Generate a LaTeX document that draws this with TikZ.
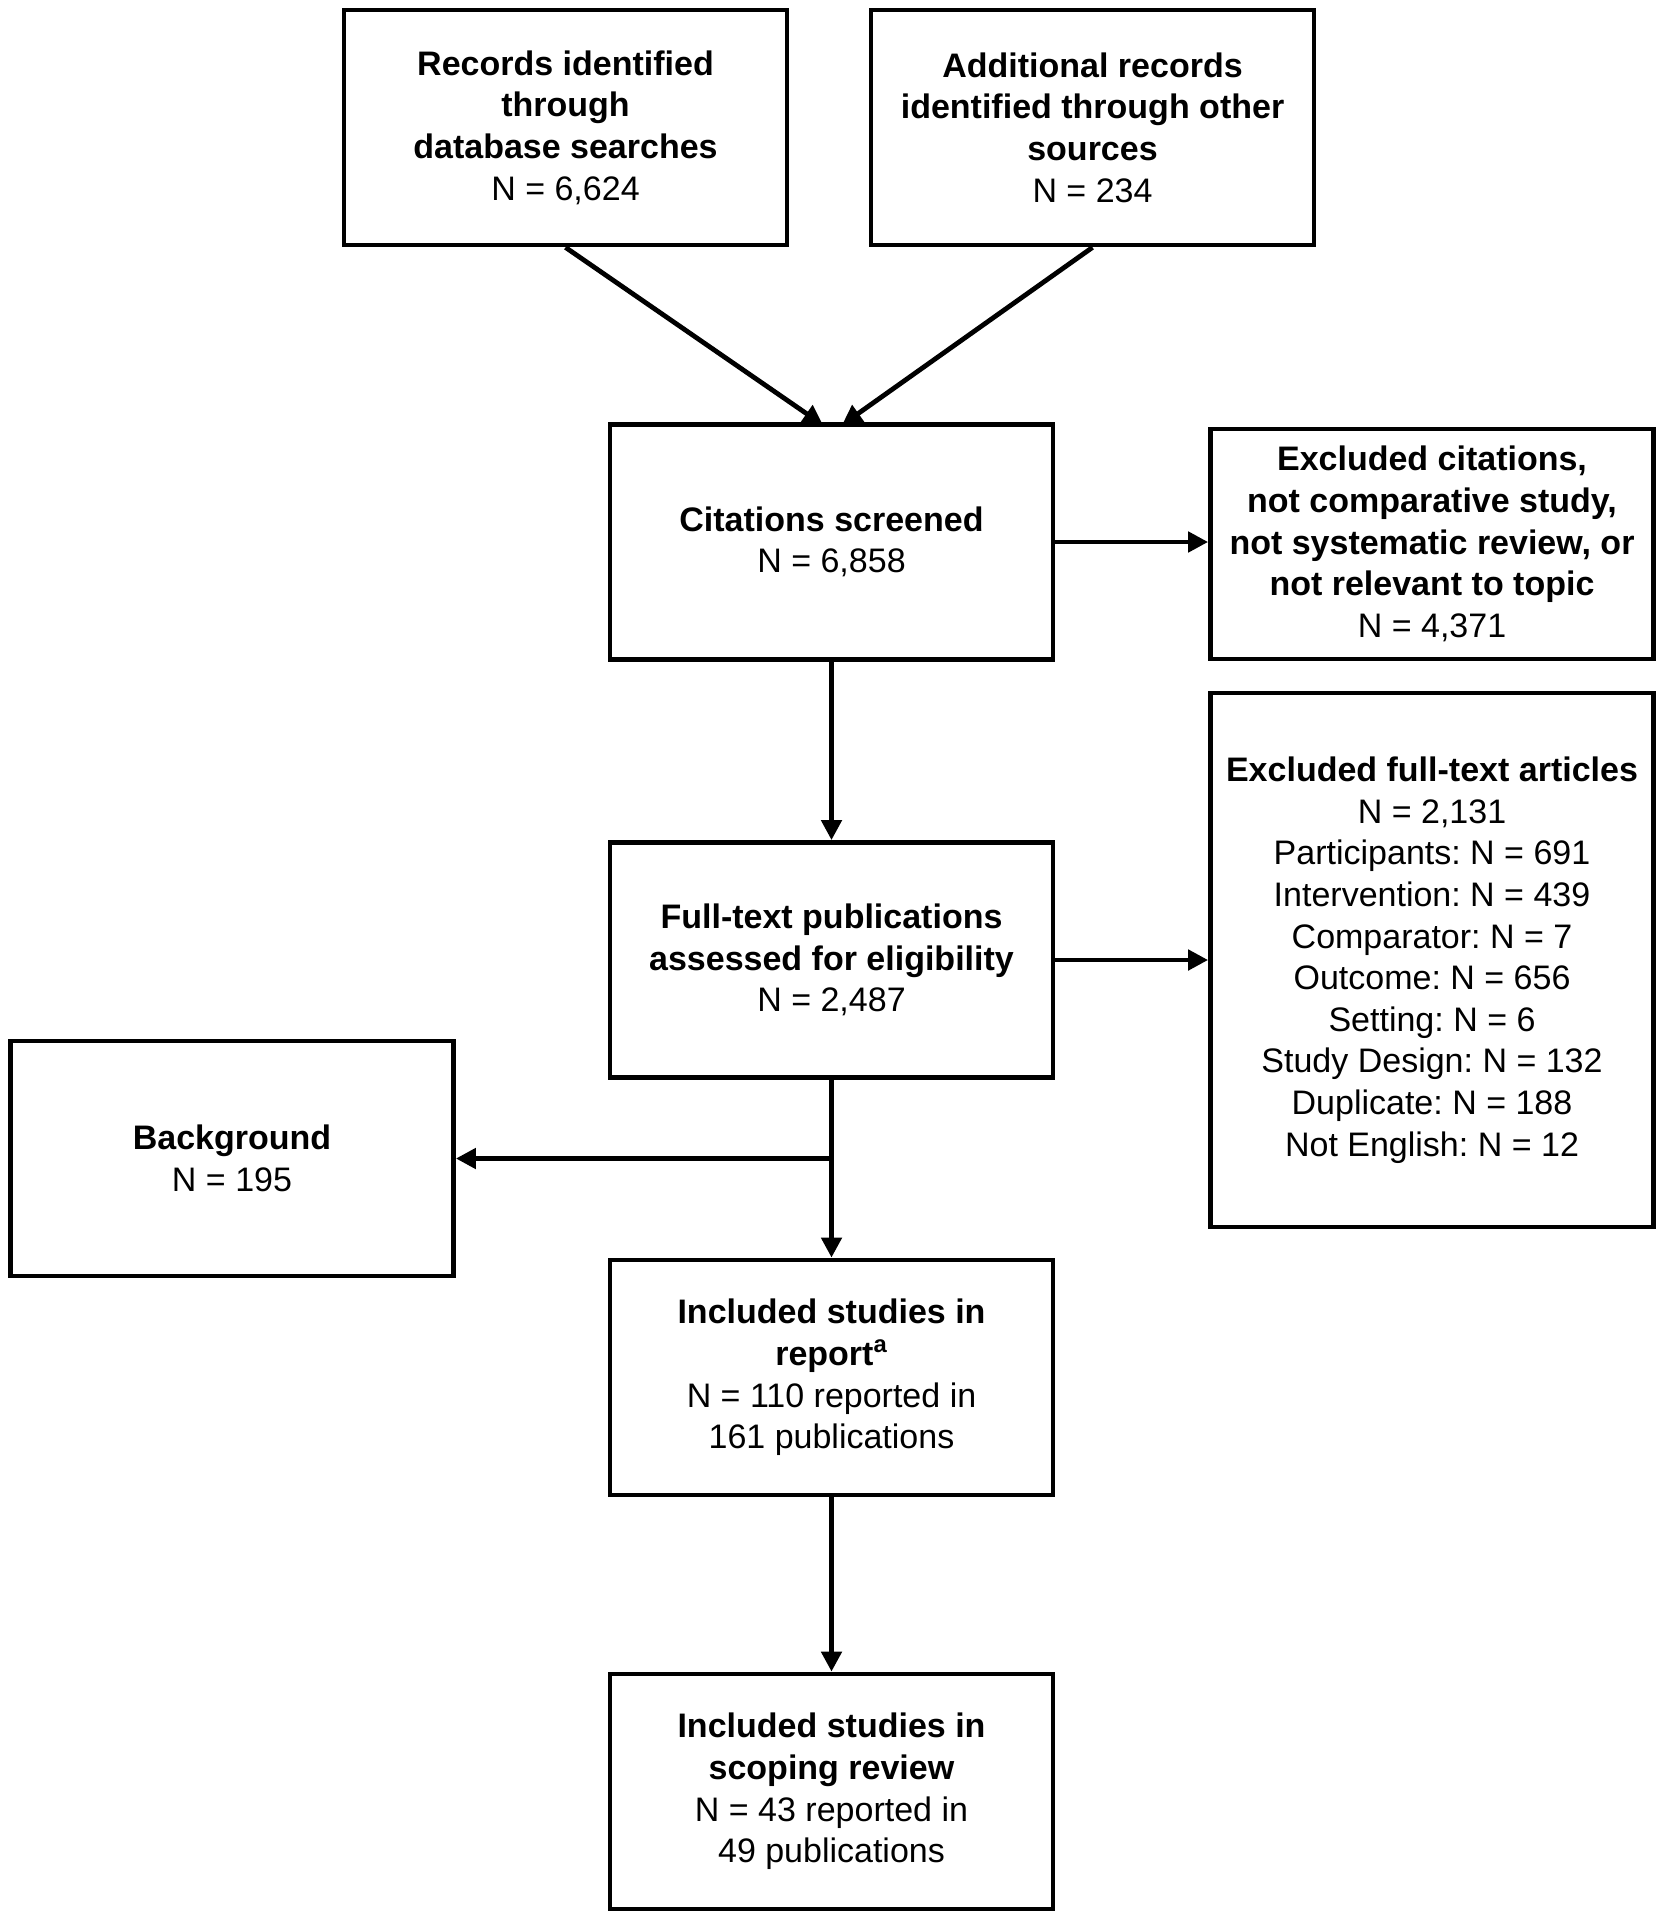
\documentclass[tikz,border=0pt]{standalone}
\usepackage{fontspec}
\setmainfont{Liberation Sans}
\frenchspacing
\usetikzlibrary{arrows.meta}
\begin{document}
\begin{tikzpicture}[x=0.5pt,y=-0.5pt,
  box/.style={draw, line width=2.4pt, minimum width=221.5pt, minimum height=117.5pt, align=center, inner sep=0pt, font=\fontsize{17}{20.8}\selectfont},
  conn/.style={line width=2.4pt, -{Triangle[length=10pt,width=10pt]}}]
\fill[white] (0,0) rectangle (1664,1920);
\useasboundingbox (0,0) rectangle (1664,1920);
\node[box] (rec) at (565.5,127.5) {\textbf{Records identified}\\\textbf{through}\\\textbf{database searches}\\N = 6,624};
\node[box] (add) at (1092.5,127.5) {\textbf{Additional records}\\\textbf{identified through other}\\\textbf{sources}\\N = 234};
\node[box] (cit) at (831.5,542) {\textbf{Citations screened}\\N = 6,858};
\node[box, minimum height=115pt] (exc) at (1432,544) {\textbf{Excluded citations,}\\\textbf{not comparative study,}\\\textbf{not systematic review, or}\\\textbf{not relevant to topic}\\N = 4,371};
\node[box] (ft) at (831.5,960) {\textbf{Full-text publications}\\\textbf{assessed for eligibility}\\N = 2,487};
\node[box, minimum height=267pt] (exf) at (1432,960) {\textbf{Excluded full-text articles}\\N = 2,131\\Participants: N = 691\\Intervention: N = 439\\Comparator: N = 7\\Outcome: N = 656\\Setting: N = 6\\Study Design: N = 132\\Duplicate: N = 188\\Not English: N = 12};
\node[box] (bg) at (232,1158.5) {\textbf{Background}\\N = 195};
\node[box] (rep) at (831.5,1377.5) {\textbf{Included studies in}\\\textbf{report\textsuperscript{a}}\\N = 110 reported in\\161 publications};
\node[box] (sco) at (831.5,1791.5) {\textbf{Included studies in}\\\textbf{scoping review}\\N = 43 reported in\\49 publications};
\coordinate (citL) at (823,425);
\coordinate (citR) at (842,425);
\coordinate (br) at (831.5,1158.5);
\draw[conn] (rec.south) -- (citL);
\draw[conn] (add.south) -- (citR);
\draw[conn] (cit.east) -- (cit.east -| exc.west);
\draw[conn] (ft.east) -- (ft.east -| exf.west);
\draw[conn] (cit.south) -- (ft.north);
\draw[conn] (ft.south) -- (rep.north);
\draw[conn] (br) -- (bg.east);
\draw[conn] (rep.south) -- (sco.north);
\end{tikzpicture}
\end{document}
